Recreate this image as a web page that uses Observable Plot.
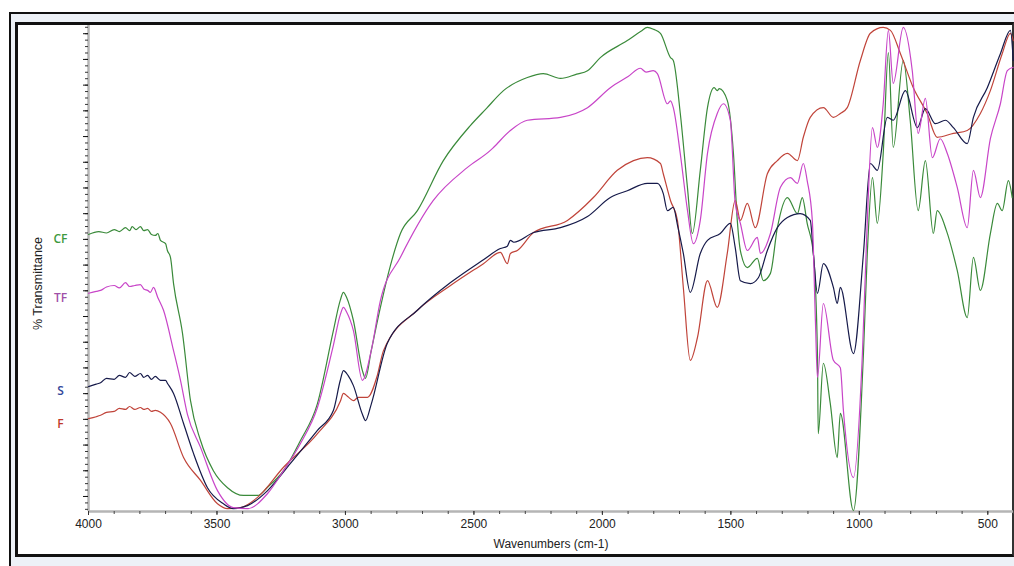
<!DOCTYPE html>
<html>
<head>
<meta charset="utf-8">
<script src="https://cdn.jsdelivr.net/npm/d3@7"></script>
<script src="https://cdn.jsdelivr.net/npm/@observablehq/plot@0.6"></script>
<style>
  html, body { margin: 0; padding: 0; background: #ffffff; width: 1014px; height: 566px; overflow: hidden; }
  #outer { position: absolute; left: 9px; top: 12px; width: 1010px; height: 560px; border-top: 2px solid #111; border-left: 2px solid #111; background: #edf1f7; box-sizing: border-box; }
  #inner { position: absolute; left: 15px; top: 22px; width: 999px; height: 535px; border: 3px solid #111; border-right: 2px solid #333; background: #ffffff; box-sizing: border-box; }
  #chart { position: absolute; left: 0; top: 0; }
</style>
</head>
<body>
<div id="outer"></div>
<div id="inner"></div>
<div id="chart"></div>
<script>
// Wavenumber (cm-1), %T (arbitrary 0-100 scale)
const CF = [
 [4000,57.0],[3960,57.6],[3930,57.3],[3900,58.0],[3880,57.6],[3856,58.4],[3840,57.8],[3830,58.6],[3815,58.0],[3798,58.6],[3785,57.8],[3770,58.0],[3755,57.0],[3740,56.8],[3730,57.2],[3720,55.8],[3700,55.1],[3693,53.7],[3681,52.3],[3669,46.9],[3634,36.6],[3603,22.8],[3564,14.6],[3514,8.4],[3459,4.9],[3397,3.3],[3342,3.3],[3303,5.0],[3241,8.4],[3175,14.6],[3109,22.2],[3047,37.2],[3020,43.5],[3008,45.1],[2995,44.0],[2969,39.3],[2934,29.0],[2922,27.4],[2900,33.0],[2864,42.0],[2825,50.6],[2786,57.2],[2720,61.9],[2619,72.2],[2514,79.4],[2450,83.0],[2385,86.6],[2292,89.3],[2230,90.1],[2163,89.1],[2100,90.0],[2058,90.7],[2008,93.4],[1903,96.9],[1850,98.8],[1825,99.6],[1800,99.2],[1774,98.4],[1735,93.4],[1724,92.8],[1697,82.0],[1669,66.7],[1650,57.2],[1619,70.2],[1591,83.1],[1565,87.2],[1553,86.6],[1545,87.0],[1514,84.6],[1490,73.7],[1475,59.9],[1463,53.7],[1436,50.2],[1397,52.1],[1374,47.5],[1346,49.0],[1319,58.4],[1280,64.6],[1241,61.3],[1222,64.6],[1203,59.3],[1179,53.1],[1163,32.5],[1160,16.0],[1140,30.5],[1113,22.2],[1086,11.1],[1074,20.2],[1023,0.2],[984,32.5],[969,53.1],[949,68.7],[930,59.3],[907,73.7],[887,94.4],[868,74.9],[829,92.8],[802,80.5],[771,61.9],[743,72.2],[712,57.2],[697,61.9],[661,57.8],[619,49.6],[580,39.9],[556,52.3],[529,45.5],[490,57.2],[463,63.4],[444,61.9],[420,68.1],[405,64.6]
];
const TF = [
 [4000,44.9],[3970,45.3],[3953,45.5],[3930,46.2],[3900,46.5],[3880,46.0],[3856,47.1],[3840,46.3],[3820,46.5],[3798,46.7],[3785,45.8],[3770,45.5],[3759,45.1],[3747,46.1],[3730,44.0],[3708,41.4],[3669,33.1],[3642,27.0],[3615,20.0],[3564,13.2],[3498,4.3],[3436,0.8],[3381,0.6],[3303,3.7],[3241,8.4],[3175,14.0],[3109,21.4],[3047,34.2],[3020,40.5],[3008,42.0],[2995,41.0],[2969,37.2],[2934,27.0],[2900,33.0],[2864,43.4],[2786,52.3],[2658,64.0],[2525,70.8],[2436,74.3],[2424,74.9],[2358,78.4],[2292,80.5],[2163,81.1],[2058,83.1],[1969,87.2],[1900,89.5],[1852,91.2],[1830,90.4],[1802,90.7],[1786,90.1],[1747,83.9],[1735,84.5],[1724,83.1],[1697,73.7],[1669,62.0],[1646,55.1],[1619,59.9],[1591,73.7],[1553,81.9],[1529,83.9],[1502,80.5],[1483,63.4],[1463,59.3],[1436,53.7],[1397,56.4],[1385,53.1],[1346,57.2],[1307,66.7],[1268,68.7],[1241,67.5],[1218,71.6],[1203,68.1],[1183,59.9],[1171,39.3],[1163,27.6],[1140,42.8],[1101,31.1],[1074,29.6],[1062,20.8],[1023,7.0],[988,32.5],[969,59.9],[949,79.0],[930,74.9],[907,83.9],[887,99.0],[868,88.1],[829,99.6],[794,90.7],[771,77.8],[743,85.0],[716,72.8],[685,76.7],[658,73.7],[619,66.7],[580,58.4],[556,70.2],[529,64.6],[490,76.7],[451,83.9],[424,90.7],[401,91.4]
];
const S = [
 [4000,25.7],[3970,26.2],[3953,26.5],[3930,27.4],[3900,27.2],[3880,28.0],[3856,27.6],[3840,28.6],[3820,27.8],[3798,28.4],[3785,27.6],[3770,28.0],[3755,27.2],[3740,27.8],[3720,27.0],[3700,27.0],[3693,26.4],[3669,24.3],[3630,18.1],[3591,11.9],[3537,4.9],[3475,1.6],[3436,0.6],[3381,1.2],[3303,4.3],[3214,9.9],[3109,16.7],[3047,20.8],[3020,27.0],[3008,29.0],[2990,28.0],[2969,25.9],[2934,20.0],[2922,18.7],[2900,22.0],[2837,34.6],[2720,41.4],[2591,47.1],[2463,51.8],[2397,54.1],[2370,54.6],[2358,55.8],[2345,55.4],[2268,57.4],[2163,58.4],[2058,60.7],[1969,64.6],[1903,66.0],[1825,67.5],[1786,67.5],[1763,65.4],[1747,61.9],[1724,62.6],[1708,59.0],[1685,53.1],[1658,45.1],[1619,53.1],[1591,55.8],[1541,57.2],[1502,59.3],[1483,54.3],[1463,47.5],[1424,46.9],[1393,48.1],[1358,53.7],[1319,58.4],[1280,60.5],[1230,61.3],[1191,59.9],[1179,53.1],[1163,44.9],[1140,51.0],[1101,46.1],[1086,42.8],[1074,46.1],[1023,32.5],[984,53.1],[957,71.6],[930,70.2],[891,81.1],[868,80.5],[821,86.6],[774,79.0],[743,82.9],[704,79.8],[665,80.5],[634,79.0],[580,75.7],[556,81.1],[502,87.2],[451,94.2],[412,99.0],[401,92.8]
];
const F = [
 [4000,19.1],[3970,19.5],[3953,19.8],[3930,20.4],[3900,20.6],[3880,21.2],[3856,21.0],[3840,21.6],[3820,21.0],[3798,21.4],[3785,21.0],[3770,21.2],[3755,20.6],[3740,20.8],[3720,20.4],[3681,18.1],[3630,11.1],[3564,6.4],[3498,1.6],[3459,0.6],[3409,0.8],[3342,2.9],[3241,9.1],[3109,16.0],[3019,22.8],[3008,24.3],[2990,23.6],[2969,22.8],[2950,23.5],[2914,23.5],[2876,28.0],[2852,33.1],[2720,41.4],[2591,46.5],[2463,51.0],[2397,53.3],[2370,51.0],[2358,53.1],[2331,53.7],[2268,57.4],[2136,59.9],[2035,64.6],[1942,70.2],[1879,72.2],[1825,72.8],[1774,71.6],[1763,69.5],[1735,64.0],[1708,59.9],[1685,46.1],[1658,31.1],[1630,35.8],[1591,47.5],[1553,42.0],[1514,53.1],[1483,64.0],[1463,59.9],[1436,63.4],[1405,58.4],[1358,69.5],[1319,72.2],[1280,73.7],[1241,72.2],[1218,77.0],[1191,81.1],[1140,83.1],[1101,81.1],[1074,81.9],[1047,83.1],[996,92.8],[957,98.4],[907,99.6],[879,99.0],[840,94.2],[790,87.2],[736,81.9],[697,77.0],[634,77.8],[580,78.4],[529,81.9],[490,86.6],[444,94.2],[412,98.4],[401,96.9]
];
const seriesNames = ["CF", "TF", "S", "F"];
const seriesData = [CF, TF, S, F];
const lineColors = ["#3a8a3a", "#c845c8", "#161a4a", "#c0443a"];
const labelColors = ["#3e9a3e", "#a050a8", "#34489a", "#c0392b"];
const xMajorTicks = [4000, 3500, 3000, 2500, 2000, 1500, 1000, 500];
const xMinorTicks = d3.range(4000, 399, -100);
const xTitle = "Wavenumbers (cm-1)";
const yTitle = "% Transmittance";

const yMajor = d3.range(3.09, 100, 5.29);
const yMinor = d3.range(3.09 - 1.3225 * 2, 100, 1.3225).filter(v => v > 0);

const series = seriesNames.map((name, i) => ({name, data: seriesData[i], color: lineColors[i], label: labelColors[i]}));
const drawOrder = [0, 3, 2, 1];

const chart = Plot.plot({
  width: 1014,
  height: 566,
  marginLeft: 88,
  marginRight: 1,
  marginTop: 25,
  marginBottom: 55,
  style: {background: "transparent", fontFamily: "'Liberation Sans', Arial, sans-serif", fontSize: "12px", color: "#222"},
  x: {domain: [4000, 400], axis: null},
  y: {domain: [0, 100], axis: null},
  marks: [
    Plot.ruleY([0], {stroke: "#b5b5b5", strokeWidth: 2.5}),
    Plot.ruleX([4000], {stroke: "#b5b5b5", strokeWidth: 2.5}),
    Plot.axisX({anchor: "bottom", ticks: xMinorTicks, tickSize: 3, tickFormat: () => "", label: null, stroke: "#444"}),
    Plot.axisX({anchor: "bottom", ticks: xMajorTicks, tickSize: 4, tickPadding: 4, tickFormat: d => String(d), label: null, stroke: "#333", fill: "#222"}),
    Plot.axisY({anchor: "left", ticks: yMinor, tickSize: 3, tickFormat: () => "", label: null, stroke: "#333"}),
    Plot.axisY({anchor: "left", ticks: yMajor, tickSize: 5, tickFormat: () => "", label: null, stroke: "#111"}),
    ...drawOrder.map(i => Plot.line(series[i].data, {x: d => d[0], y: d => d[1], stroke: series[i].color, strokeWidth: 1.2, curve: "monotone-x"})),
    Plot.text(series, {x: () => 4000, y: s => s.data[0][1], text: s => s.name, fill: s => s.label, dx: -28, dy: 5, fontSize: 12, fontWeight: 600, fontFamily: "'Open Sans', sans-serif", textAnchor: "middle"}),
    Plot.text([xTitle], {frameAnchor: "bottom", dy: 36, fontSize: 12, fill: "#222", textAnchor: "middle"}),
    Plot.text([yTitle], {frameAnchor: "left", dx: -51, dy: 15, rotate: -90, fontSize: 12.5, fill: "#222", textAnchor: "middle"})
  ]
});
document.getElementById("chart").appendChild(chart);
</script>
</body>
</html>
